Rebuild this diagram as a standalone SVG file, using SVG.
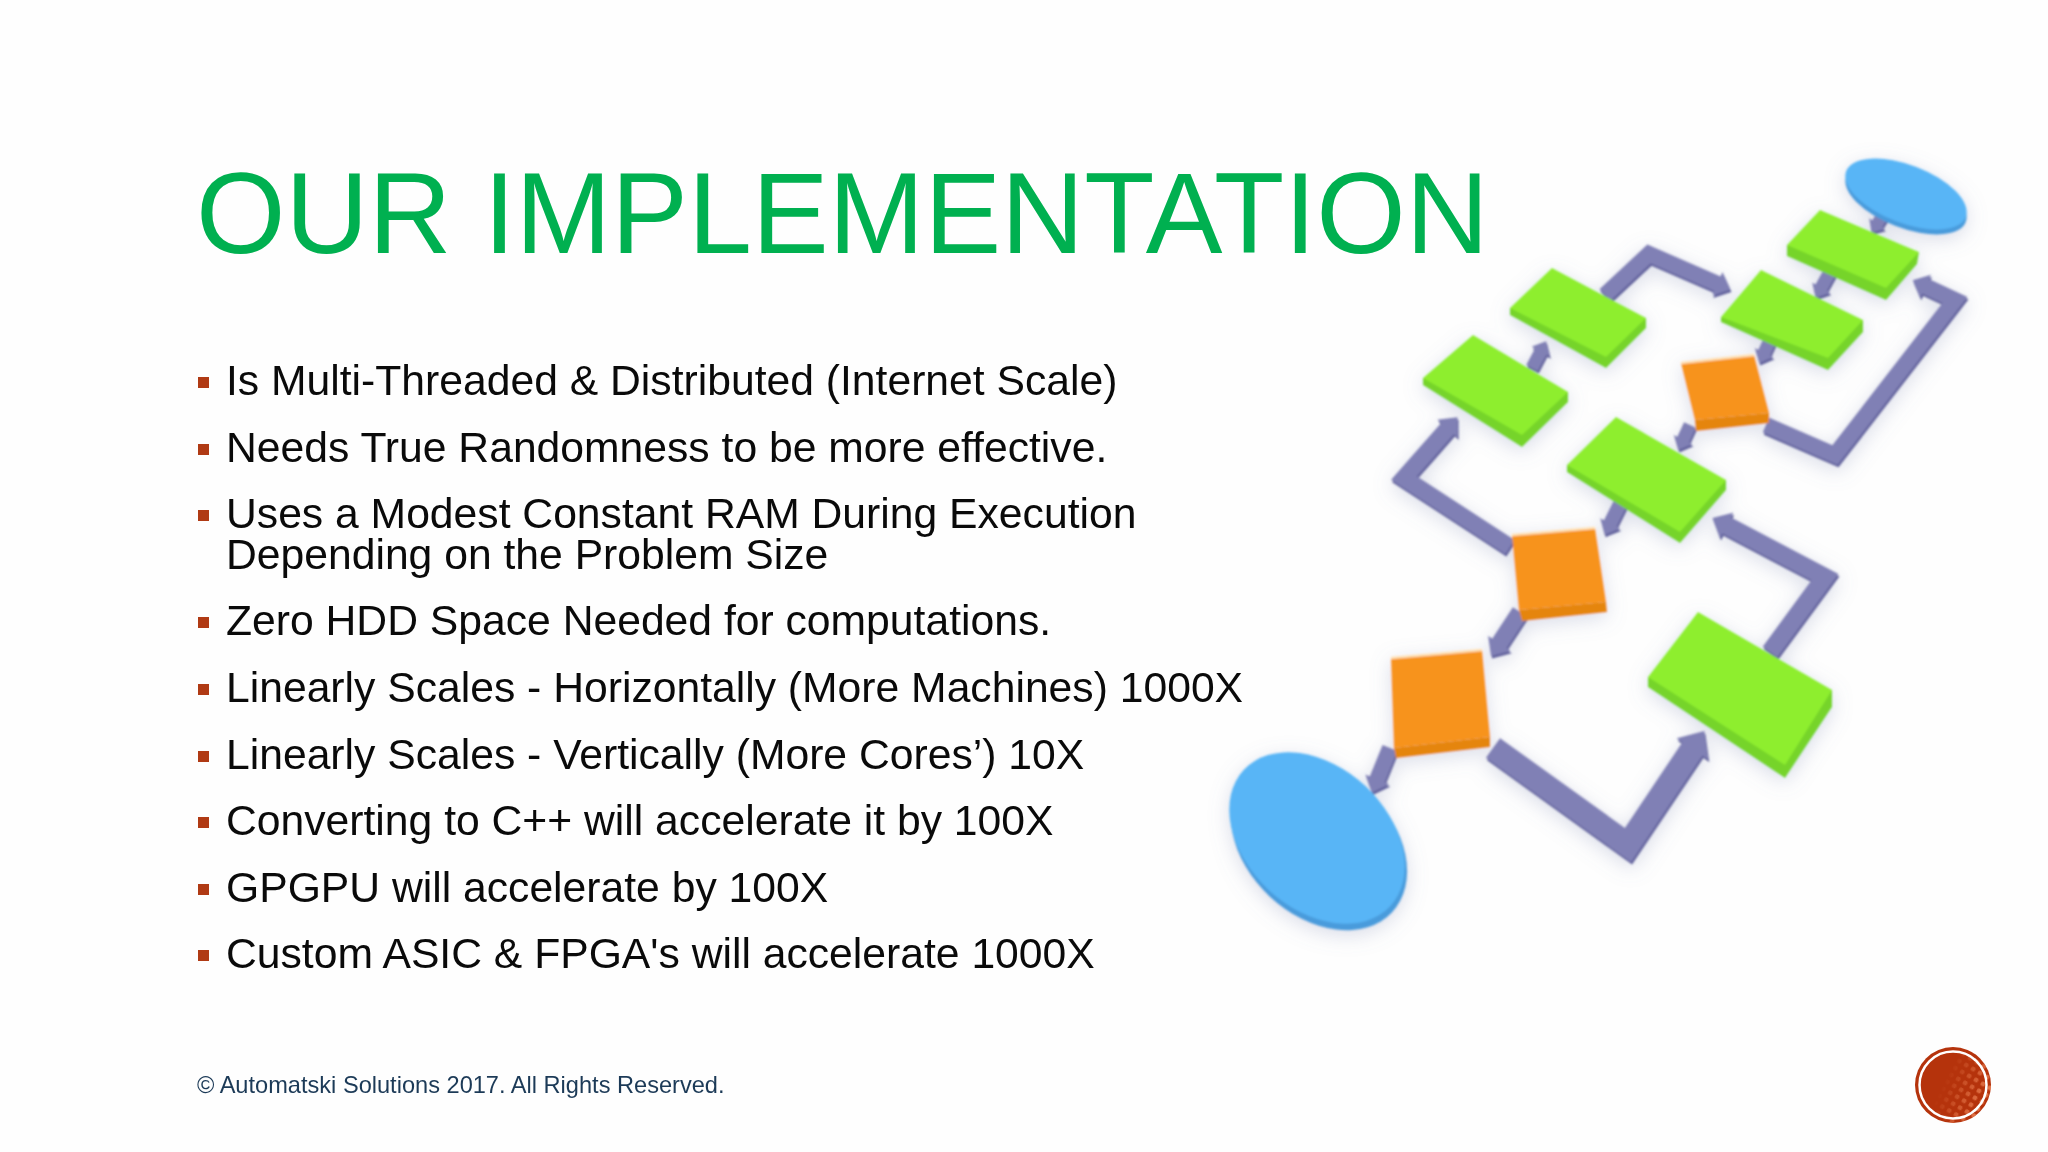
<svg xmlns="http://www.w3.org/2000/svg" width="2048" height="1152" viewBox="0 0 2048 1152">
<style>
.t{font-family:"Liberation Sans",Arial,sans-serif;fill:#0a0a0a;font-size:42.67px}
.b{fill:#b03a14}
.gt{fill:#8eee2e}.gs{fill:#76d42a}
.ot{fill:#f7931e}.os{fill:#e5850f}.h{fill:none;stroke:#ffe0b4;stroke-width:2.5}
.bt{fill:#58b5f6}.bs{fill:#4a9bdc}
.c{fill:none;stroke-linejoin:miter;stroke-miterlimit:6}
.m{stroke:#8080b5;marker-end:url(#hm)}
.u{stroke:#62629c;marker-end:url(#hu)}
</style>
<defs>
<marker id="hm" viewBox="0 0 9 16" refX="0.5" refY="8" markerWidth="0.9" markerHeight="1.6" orient="auto"><path d="M0 0L9 8L0 16Z" fill="#8080b5"/></marker>
<marker id="hu" viewBox="0 0 9 16" refX="0.5" refY="8" markerWidth="0.9" markerHeight="1.6" orient="auto"><path d="M0 0L9 8L0 16Z" fill="#62629c"/></marker>
<filter id="sh" x="-15%" y="-15%" width="130%" height="130%"><feGaussianBlur in="SourceGraphic" stdDeviation="1" result="s"/><feDropShadow in="s" dx="0" dy="5" stdDeviation="10" flood-color="#7c86b0" flood-opacity="0.28"/></filter>
<pattern id="dots" width="8" height="8" patternUnits="userSpaceOnUse" patternTransform="rotate(30)"><rect x="1" y="1" width="4.5" height="4.5" rx="1.5" fill="#f28a5c"/></pattern>
<linearGradient id="fade" x1="0.45" y1="0.3" x2="1" y2="0.55"><stop offset="0" stop-color="#000"/><stop offset="1" stop-color="#fff"/></linearGradient>
<mask id="fm" maskUnits="userSpaceOnUse" x="1915" y="1047" width="76" height="76"><rect x="1915" y="1047" width="76" height="76" fill="url(#fade)"/></mask>
</defs>
<rect width="2048" height="1152" fill="#fefefe"/>

<g id="diagram" filter="url(#sh)">
<g id="connectors">
<g transform="translate(1,2.5)">
<polyline class="c u" stroke-width="16" points="1605,295 1649,254 1718,284"/>
<polyline class="c u" stroke-width="16" points="1766,425 1835,455 1955,300 1925,286"/>
<polyline class="c u" stroke-width="17" points="1510,547 1404,478 1448,428"/>
<polyline class="c u" stroke-width="18" points="1770,652 1825,577 1726,525"/>
<polyline class="c u" stroke-width="24" points="1493,748 1628,845 1693,748"/>
<polyline class="c u" stroke-width="12" points="1886,210 1877,224"/>
<polyline class="c u" stroke-width="13" points="1831,270 1821,288"/>
<polyline class="c u" stroke-width="13" points="1770,340 1764,353"/>
<polyline class="c u" stroke-width="13" points="1532,368 1541,351"/>
<polyline class="c u" stroke-width="13" points="1690,425 1683,440"/>
<polyline class="c u" stroke-width="14" points="1622,500 1610,524"/>
<polyline class="c u" stroke-width="17" points="1520,612 1499,644"/>
<polyline class="c u" stroke-width="16" points="1390,748 1377,780"/>
</g>
<polyline class="c m" stroke-width="16" points="1605,295 1649,254 1718,284"/>
<polyline class="c m" stroke-width="16" points="1766,425 1835,455 1955,300 1925,286"/>
<polyline class="c m" stroke-width="17" points="1510,547 1404,478 1448,428"/>
<polyline class="c m" stroke-width="18" points="1770,652 1825,577 1726,525"/>
<polyline class="c m" stroke-width="24" points="1493,748 1628,845 1693,748"/>
<polyline class="c m" stroke-width="12" points="1886,210 1877,224"/>
<polyline class="c m" stroke-width="13" points="1831,270 1821,288"/>
<polyline class="c m" stroke-width="13" points="1770,340 1764,353"/>
<polyline class="c m" stroke-width="13" points="1532,368 1541,351"/>
<polyline class="c m" stroke-width="13" points="1690,425 1683,440"/>
<polyline class="c m" stroke-width="14" points="1622,500 1610,524"/>
<polyline class="c m" stroke-width="17" points="1520,612 1499,644"/>
<polyline class="c m" stroke-width="16" points="1390,748 1377,780"/>
</g>

<g id="start-oval">
<ellipse class="bs" cx="1906" cy="199" rx="64" ry="29" transform="rotate(21 1906 199)"/>
<ellipse class="bt" cx="1906" cy="194" rx="64" ry="29" transform="rotate(21 1906 194)"/>
</g>
<g id="process-1">
<polygon class="gs" points="1787,245 1919,252 1917,264 1886,300 1787,256"/>
<polygon class="gt" points="1820,210 1919,252 1886,288 1787,245"/>
</g>
<g id="process-2">
<polygon class="gs" points="1721,317 1863,320 1863,332 1828,370 1721,322"/>
<polygon class="gt" points="1761,270 1863,320 1828,358 1721,317"/>
</g>
<g id="process-3">
<polygon class="gs" points="1510,308 1646,318 1646,328 1606,368 1510,315"/>
<polygon class="gt" points="1552,268 1646,318 1606,357 1510,308"/>
</g>
<g id="process-4">
<polygon class="gs" points="1423,378 1568,392 1568,402 1522,447 1423,385"/>
<polygon class="gt" points="1473,335 1568,392 1522,435 1423,378"/>
</g>
<g id="process-5">
<polygon class="gs" points="1567,465 1726,480 1726,490 1680,543 1567,472"/>
<polygon class="gt" points="1616,417 1726,480 1680,532 1567,465"/>
</g>
<g id="process-6">
<polygon class="gs" points="1648,677 1832,690 1832,707 1785,778 1648,687"/>
<polygon class="gt" points="1698,612 1832,690 1785,765 1648,677"/>
</g>
<g id="decision-1">
<polygon class="os" points="1695,420 1769,413 1769,423 1696,431"/>
<polygon class="ot" points="1681,363 1754,355 1769,413 1695,420"/>
<line class="h" x1="1681" y1="363" x2="1754" y2="355"/>
</g>
<g id="decision-2">
<polygon class="os" points="1519,610 1606,602 1607,612 1522,621"/>
<polygon class="ot" points="1512,535 1595,528 1606,602 1519,610"/>
<line class="h" x1="1512" y1="535" x2="1595" y2="528"/>
</g>
<g id="decision-3">
<polygon class="os" points="1394,748 1490,737 1490,747 1396,758"/>
<polygon class="ot" points="1391,658 1482,650 1490,737 1394,748"/>
<line class="h" x1="1391" y1="658" x2="1482" y2="650"/>
</g>
<g id="end-oval">
<ellipse class="bs" cx="1319" cy="844" rx="100" ry="72" transform="rotate(43 1319 844)"/>
<ellipse class="bt" cx="1317" cy="838" rx="100" ry="71" transform="rotate(43 1317 838)"/>
</g>
</g>

<text x="196" y="253" font-family="Liberation Sans, Arial, sans-serif" font-size="115" fill="#00b050">OUR IMPLEMENTATION</text>

<g id="bullets">
<rect class="b" x="198" y="377" width="11" height="11"/>
<rect class="b" x="198" y="444" width="11" height="11"/>
<rect class="b" x="198" y="510" width="11" height="11"/>
<rect class="b" x="198" y="617" width="11" height="11"/>
<rect class="b" x="198" y="684" width="11" height="11"/>
<rect class="b" x="198" y="751" width="11" height="11"/>
<rect class="b" x="198" y="817" width="11" height="11"/>
<rect class="b" x="198" y="884" width="11" height="11"/>
<rect class="b" x="198" y="950" width="11" height="11"/>
</g>
<g id="body">
<text class="t" x="226" y="395">Is Multi-Threaded &amp; Distributed (Internet Scale)</text>
<text class="t" x="226" y="462">Needs True Randomness to be more effective.</text>
<text class="t" x="226" y="528">Uses a Modest Constant RAM During Execution</text>
<text class="t" x="226" y="569">Depending on the Problem Size</text>
<text class="t" x="226" y="635">Zero HDD Space Needed for computations.</text>
<text class="t" x="226" y="702">Linearly Scales - Horizontally (More Machines) 1000X</text>
<text class="t" x="226" y="769">Linearly Scales - Vertically (More Cores’) 10X</text>
<text class="t" x="226" y="835">Converting to C++ will accelerate it by 100X</text>
<text class="t" x="226" y="902">GPGPU will accelerate by 100X</text>
<text class="t" x="226" y="968">Custom ASIC &amp; FPGA's will accelerate 1000X</text>
</g>
<text x="197" y="1093" font-family="Liberation Sans, Arial, sans-serif" font-size="23.6" fill="#1c3a57">© Automatski Solutions 2017. All Rights Reserved.</text>

<g id="page-badge">
<circle cx="1953" cy="1085" r="38" fill="#b5330c"/>
<circle cx="1953" cy="1085" r="38" fill="url(#dots)" mask="url(#fm)" opacity="0.8"/>
<circle cx="1953" cy="1085" r="33.5" fill="none" stroke="#fff" stroke-width="2.5"/>
</g>
</svg>
